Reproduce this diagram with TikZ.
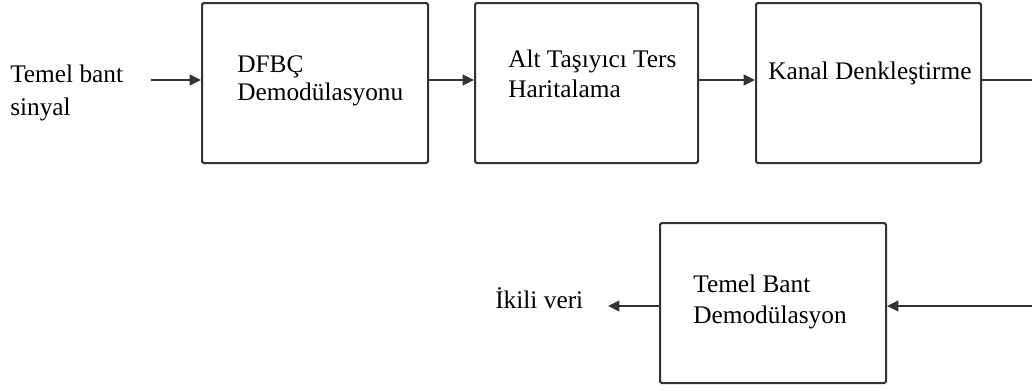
\documentclass[tikz,border=0pt]{standalone}
\usepackage{fontspec}
\setmainfont{Liberation Serif}
\usetikzlibrary{arrows.meta}
\definecolor{linec}{HTML}{333333}
\tikzset{
  blk/.style={draw=linec, line width=1.5pt, rounded corners=1.2pt, inner sep=0pt,
              minimum width=169.5pt, minimum height=120pt},
  arr/.style={draw=linec, line width=1.5pt, -{Triangle[length=8.5pt,width=8pt]}},
  wire/.style={draw=linec, line width=1.5pt},
  txt/.style={inner sep=0pt, anchor=base west, align=left, font=\fontsize{19pt}{22pt}\selectfont}
}
\begin{document}
\begin{tikzpicture}[x=0.75pt,y=-0.75pt]
\useasboundingbox (0,0) rectangle (1032,390);
% boxes
\node[blk] (b1) at (315,83) {};
\node[blk, minimum width=167.25pt] (b2) at (586.5,83) {};
\node[blk, minimum width=168.75pt] (b3) at (868.5,83) {};
\node[blk] (b4) at (773,303) {};
% texts (base anchor = baseline of last line)
\node[txt, font=\fontsize{19pt}{24.5pt}\selectfont] (tin) at (10,115) {Temel bant\\sinyal};
\node[txt, font=\fontsize{19pt}{21pt}\selectfont] (t1) at (237,100) {DFBÇ\\Demodülasyonu};
\node[txt] (t2) at (508,97) {Alt Taşıyıcı Ters\\Haritalama};
\node[txt] (t3) at (768,79) {Kanal Denkleştirme};
\node[txt, font=\fontsize{19pt}{23pt}\selectfont] (t4) at (693,323) {Temel Bant\\Demodülasyon};
\node[txt] (tout) at (495,308) {İkili veri};
% connectors
\coordinate (in) at (151,80);
\coordinate (o1) at (1032,80);
\coordinate (o2) at (1032,306);
\coordinate (out) at (608,306);
\draw[arr] (in) -- (in -| b1.west);
\draw[arr] ([yshift=2.25pt]b1.east) -- ([yshift=2.25pt]b2.west);
\draw[arr] ([yshift=2.25pt]b2.east) -- ([yshift=2.25pt]b3.west);
\draw[wire] (o1 -| b3.east) -- (o1);
\draw[arr] (o2) -- (o2 -| b4.east);
\draw[arr] (out -| b4.west) -- (out);
\end{tikzpicture}
\end{document}
